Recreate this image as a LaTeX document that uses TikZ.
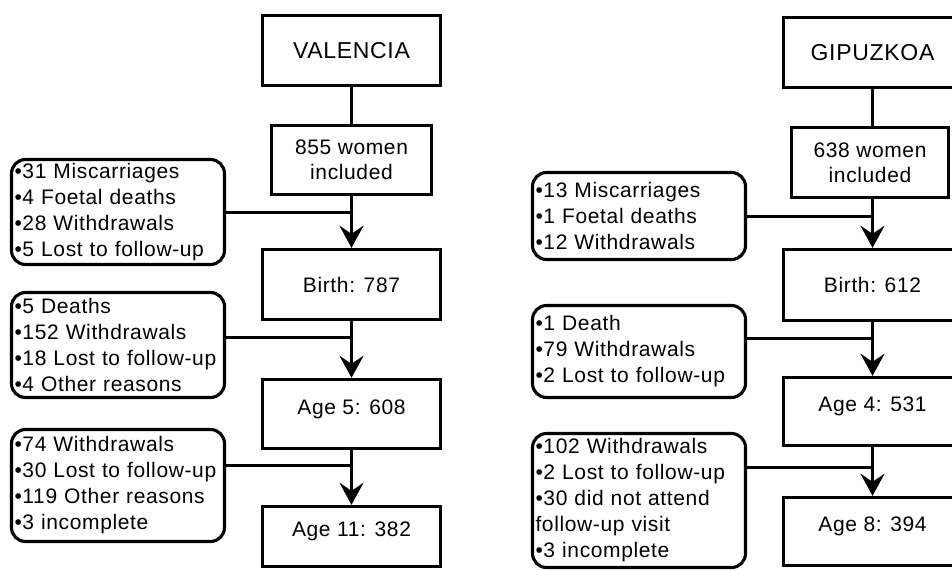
\documentclass[tikz,border=0pt]{standalone}
\usepackage{fontspec}
\setmainfont{Liberation Sans}[LetterSpace=3]
\usetikzlibrary{arrows.meta}
\begin{document}
\begin{tikzpicture}[x=1pt,y=-1pt,
  mainbox/.style={draw, line width=3.4pt, inner sep=0pt, align=center, font=\fontsize{21}{25}\selectfont},
  titlebox/.style={mainbox, font=\fontsize{23}{27}\selectfont},
  raised/.style={text height=14pt, text depth=14pt},
  sidebox/.style={draw, line width=3.1pt, rounded corners=14pt, inner xsep=3pt, inner ysep=0pt, align=left, text width=207pt, font=\fontsize{21}{26}\selectfont},
  link/.style={line width=3pt},
  flow/.style={line width=3pt, -{Stealth[length=22pt,width=24pt,inset=8pt]}}
]
\useasboundingbox (0,0) rectangle (952,570);

% Valencia column
\node[titlebox, minimum width=178pt, minimum height=70pt] (V0) at (351.5,50.5) {VALENCIA};
\node[mainbox, minimum width=160pt, minimum height=69pt] (V1) at (351.5,160) {855 women\\included};
\node[mainbox, minimum width=178pt, minimum height=70pt] (V2) at (351.5,284.5) {Birth: 787};
\node[mainbox, raised, minimum width=178pt, minimum height=69pt] (V3) at (351.5,414) {Age 5: 608};
\node[mainbox, raised, minimum width=178pt, minimum height=60pt] (V4) at (351.5,536.5) {Age 11: 382};

\node[sidebox, minimum height=105pt] (VS1) at (118,212) {•31 Miscarriages\\•4 Foetal deaths\\•28 Withdrawals\\•5 Lost to follow-up};
\node[sidebox, minimum height=105pt] (VS2) at (118,345) {•5 Deaths\\•152 Withdrawals\\•18 Lost to follow-up\\•4 Other reasons};
\node[sidebox, minimum height=112pt] (VS3) at (118,485.5) {•74 Withdrawals\\•30 Lost to follow-up\\•119 Other reasons\\•3 incomplete};

% Gipuzkoa column
\node[titlebox, minimum width=178pt, minimum height=70pt] (G0) at (872.5,52.5) {GIPUZKOA};
\node[mainbox, minimum width=157pt, minimum height=70pt] (G1) at (870,162.5) {638 women\\included};
\node[mainbox, minimum width=178pt, minimum height=71pt] (G2) at (872.5,285) {Birth: 612};
\node[mainbox, raised, minimum width=178pt, minimum height=68pt] (G3) at (872.5,411.5) {Age 4: 531};
\node[mainbox, raised, minimum width=178pt, minimum height=68pt] (G4) at (872.5,531.5) {Age 8: 394};

\node[sidebox, minimum height=87pt] (GS1) at (639,216) {•13 Miscarriages\\•1 Foetal deaths\\•12 Withdrawals};
\node[sidebox, minimum height=92pt] (GS2) at (639,351.5) {•1 Death\\•79 Withdrawals\\•2 Lost to follow-up};
\node[sidebox, minimum height=134pt] (GS3) at (639,500.5) {•102 Withdrawals\\•2 Lost to follow-up\\•30 did not attend\\follow-up visit\\•3 incomplete};

% Valencia connectors
\draw[link] (V0) -- (V1);
\draw[flow] (V1) -- (V2);
\draw[flow] (V2) -- (V3);
\draw[flow] (V3) -- (V4);
\coordinate (v1e) at (VS1.east);
\coordinate (v2e) at ([yshift=8pt]VS2.east);
\coordinate (v3e) at ([yshift=20.5pt]VS3.east);
\draw[link] (v1e) -- (v1e -| V2.north);
\draw[link] (v2e) -- (v2e -| V3.north);
\draw[link] (v3e) -- (v3e -| V4.north);

% Gipuzkoa connectors
\draw[link] (G0.south) -- (G0.south |- G1.north);
\draw[flow] (G2.north |- G1.south) -- (G2.north);
\draw[flow] (G2) -- (G3);
\draw[flow] (G3) -- (G4);
\coordinate (g1e) at (GS1.east);
\coordinate (g2e) at ([yshift=13.5pt]GS2.east);
\coordinate (g3e) at ([yshift=33.5pt]GS3.east);
\draw[link] (g1e) -- (g1e -| G2.north);
\draw[link] (g2e) -- (g2e -| G3.north);
\draw[link] (g3e) -- (g3e -| G4.north);
\end{tikzpicture}
\end{document}
